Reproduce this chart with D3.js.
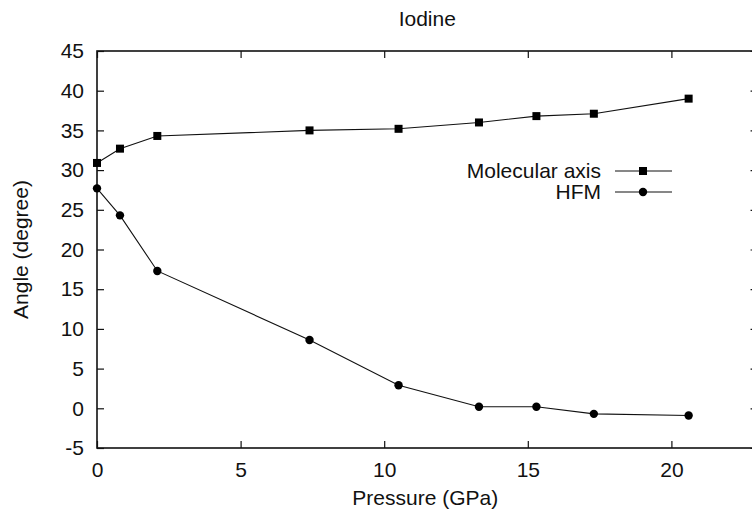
<!DOCTYPE html>
<html>
<head>
<meta charset="utf-8">
<style>
    body { margin: 0; background: #fff; }
    svg { font-family: 'Liberation Sans', Arial, sans-serif; }
</style>
</head>
<body>
<svg width="752" height="513"></svg>
<script src="https://d3js.org/d3.v7.min.js"></script>
<script>
    // pressure (GPa) and angles (degree)
    const pressure = [0, 0.8, 2.1, 7.4, 10.5, 13.3, 15.3, 17.3, 20.6];
    const molecularAxis = [30.9, 32.7, 34.3, 35.0, 35.2, 36.0, 36.8, 37.1, 39.0];
    const hfm = [27.7, 24.3, 17.3, 8.6, 2.9, 0.2, 0.2, -0.7, -0.9];
    const xTicks = [0, 5, 10, 15, 20];
    const yTicks = [-5, 0, 5, 10, 15, 20, 25, 30, 35, 40, 45];

    const margin = { left: 97, top: 51, bottom: 65 };
    const width = 752, height = 513;
    const svg = d3.select("svg");

    const x = d3.scaleLinear().domain([0, 23]).range([margin.left, margin.left + 23 * 28.72]);
    const y = d3.scaleLinear().domain([-5, 45]).range([height - margin.bottom, margin.top]);

    const tickLen = 7;
    const fmt = d => String(d); // plain hyphen for negatives, like the original

    // frame
    svg.append("rect")
        .attr("x", x(0)).attr("y", y(45))
        .attr("width", x(23) - x(0)).attr("height", y(-5) - y(45))
        .attr("fill", "none").attr("stroke", "#111").attr("stroke-width", 1.6);

    // axes with inward ticks
    svg.append("g")
        .attr("transform", `translate(0,${y(-5)})`)
        .call(d3.axisBottom(x).tickValues(xTicks).tickSize(-tickLen).tickPadding(14).tickFormat(fmt))
        .call(g => g.select(".domain").remove());
    svg.append("g")
        .attr("transform", `translate(0,${y(45)})`)
        .call(d3.axisTop(x).tickValues(xTicks).tickSize(-tickLen).tickFormat(""))
        .call(g => g.select(".domain").remove());
    svg.append("g")
        .attr("transform", `translate(${x(0)},0)`)
        .call(d3.axisLeft(y).tickValues(yTicks).tickSize(-tickLen).tickPadding(13).tickFormat(fmt))
        .call(g => g.select(".domain").remove());
    svg.append("g")
        .attr("transform", `translate(${x(23)},0)`)
        .call(d3.axisRight(y).tickValues(yTicks).tickSize(-tickLen).tickFormat(""))
        .call(g => g.select(".domain").remove());

    svg.selectAll(".tick line").attr("stroke", "#111").attr("stroke-width", 1.2);
    svg.selectAll(".tick text")
        .style("font-size", "21px")
        .style("font-family", "'Liberation Sans', Arial, sans-serif")
        .attr("fill", "#111");

    const line = d3.line().x(d => x(d[0])).y(d => y(d[1]));
    const molData = pressure.map((p, i) => [p, molecularAxis[i]]);
    const hfmData = pressure.map((p, i) => [p, hfm[i]]);

    [molData, hfmData].forEach(data => {
        svg.append("path")
            .datum(data)
            .attr("d", line)
            .attr("fill", "none")
            .attr("stroke", "#111")
            .attr("stroke-width", 1.1);
    });

    svg.selectAll(".sq")
        .data(molData)
        .join("rect")
        .attr("x", d => x(d[0]) - 4)
        .attr("y", d => y(d[1]) - 4)
        .attr("width", 8).attr("height", 8)
        .attr("fill", "#000");

    svg.selectAll(".dot")
        .data(hfmData)
        .join("circle")
        .attr("cx", d => x(d[0]))
        .attr("cy", d => y(d[1]))
        .attr("r", 4.2)
        .attr("fill", "#000");

    // legend
    const legend = [
        { name: "Molecular axis", shape: "square", y: 171 },
        { name: "HFM", shape: "circle", y: 192 }
    ];
    legend.forEach(l => {
        svg.append("text")
            .attr("x", 601).attr("y", l.y).attr("dy", "0.35em")
            .attr("text-anchor", "end")
            .attr("font-size", 21).attr("fill", "#111")
            .text(l.name);
        svg.append("line")
            .attr("x1", 615).attr("x2", 672)
            .attr("y1", l.y).attr("y2", l.y)
            .attr("stroke", "#111").attr("stroke-width", 1.1);
        if (l.shape === "square") {
            svg.append("rect").attr("x", 643 - 4).attr("y", l.y - 4)
                .attr("width", 8).attr("height", 8).attr("fill", "#000");
        } else {
            svg.append("circle").attr("cx", 643).attr("cy", l.y)
                .attr("r", 4.2).attr("fill", "#000");
        }
    });

    // title and axis labels
    svg.append("text")
        .attr("x", (x(0) + x(23)) / 2).attr("y", 19).attr("dy", "0.35em")
        .attr("text-anchor", "middle").attr("font-size", 21).attr("fill", "#111")
        .text("Iodine");
    svg.append("text")
        .attr("x", (x(0) + x(23)) / 2 - 2).attr("y", 498).attr("dy", "0.35em")
        .attr("text-anchor", "middle").attr("font-size", 21).attr("fill", "#111")
        .text("Pressure (GPa)");
    svg.append("text")
        .attr("transform", `translate(21,${(y(-5) + y(45)) / 2}) rotate(-90)`)
        .attr("dy", "0.35em")
        .attr("text-anchor", "middle").attr("font-size", 21).attr("fill", "#111")
        .text("Angle (degree)");
</script>
</body>
</html>
